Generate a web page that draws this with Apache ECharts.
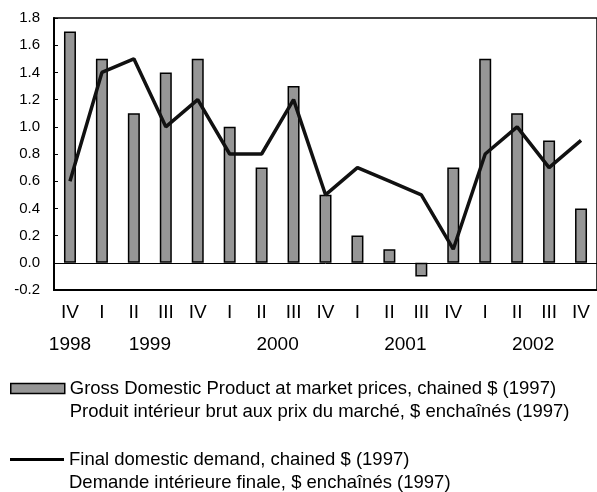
<!DOCTYPE html>
<html>
<head>
<meta charset="utf-8">
<script src="https://cdn.jsdelivr.net/npm/echarts@6/dist/echarts.min.js"></script>
<style>
  html, body { margin: 0; padding: 0; background: #fff; }
  #chart { width: 597px; height: 492px; }
</style>
</head>
<body>
<div id="chart"></div>
<script>
// quarters, 1998 Q4 .. 2002 Q4
const quarters = ['IV', 'I', 'II', 'III', 'IV', 'I', 'II', 'III', 'IV', 'I', 'II', 'III', 'IV', 'I', 'II', 'III', 'IV'];
const gdp = [1.7, 1.5, 1.1, 1.4, 1.5, 1.0, 0.7, 1.3, 0.5, 0.2, 0.1, -0.1, 0.7, 1.5, 1.1, 0.9, 0.4];
const demand = [0.6, 1.4, 1.5, 1.0, 1.2, 0.8, 0.8, 1.2, 0.5, 0.7, 0.6, 0.5, 0.1, 0.8, 1.0, 0.7, 0.9];
// year labels sit under the middle of their quarters
const years = ['1998', '1999', '2000', '2001', '2002'];
const yearAt = [0, 2.5, 6.5, 10.5, 14.5];

const gdpName = 'Gross Domestic Product at market prices, chained $ (1997)\nProduit intérieur brut aux prix du marché, $ enchaînés (1997)';
const demandName = 'Final domestic demand, chained $ (1997)\nDemande intérieure finale, $ enchaînés (1997)';

const font = 'Liberation Sans, Arial, sans-serif';
const legendText = { color: '#000', fontFamily: font, fontSize: 18.5, lineHeight: 23 };
// blank first line so the icon sits level with the first text line
const legendFmt = name => '\n' + name;

const chart = echarts.init(document.getElementById('chart'), null, { renderer: 'canvas' });
chart.setOption({
  animation: false,
  backgroundColor: '#fff',
  grid: {
    left: 54, right: -2, top: 18, bottom: 202,
    show: true, borderColor: '#000', borderWidth: 1.5
  },
  legend: [
    {
      left: 10, top: 354, padding: 0, itemWidth: 54, itemHeight: 10,
      selectedMode: false, textStyle: legendText, formatter: legendFmt,
      data: [{ name: gdpName, icon: 'rect', itemStyle: { color: '#969696', borderColor: '#000', borderWidth: 1.5 } }]
    },
    {
      left: 10, top: 425, padding: 0, itemWidth: 54, itemHeight: 3,
      selectedMode: false, textStyle: legendText, formatter: legendFmt,
      data: [{ name: demandName, icon: 'rect', itemStyle: { color: '#000', borderWidth: 0 } }]
    }
  ],
  xAxis: [
    {
      type: 'category',
      data: quarters,
      position: 'bottom',
      axisLine: { onZero: false, lineStyle: { color: '#000', width: 2 } },
      axisTick: { inside: true, length: 4, lineStyle: { color: '#000', width: 1 } },
      axisLabel: { color: '#000', fontFamily: font, fontSize: 19, margin: 13, interval: 0 },
      splitLine: { show: false }
    },
    {
      type: 'value',
      min: -0.5, max: 16.5, interval: 0.5,
      position: 'bottom',
      offset: 32,
      axisLine: { show: false, onZero: false },
      axisTick: { show: false },
      splitLine: { show: false },
      axisLabel: {
        color: '#000', fontFamily: font, fontSize: 19, margin: 13,
        showMinLabel: false, showMaxLabel: false,
        formatter: v => {
          const i = yearAt.indexOf(v);
          return i >= 0 ? years[i] : '';
        }
      }
    }
  ],
  yAxis: {
    type: 'value',
    min: -0.2, max: 1.8, interval: 0.2,
    axisLine: { show: true, onZero: false, lineStyle: { color: '#000', width: 2 } },
    axisTick: { show: true, inside: true, length: 4, lineStyle: { color: '#000' } },
    axisLabel: { color: '#000', fontFamily: font, fontSize: 15, margin: 14, formatter: v => v.toFixed(1) },
    splitLine: { show: false }
  },
  series: [
    {
      name: gdpName,
      type: 'bar',
      xAxisIndex: 0,
      data: gdp,
      barWidth: 12,
      itemStyle: { color: '#969696', borderColor: '#000', borderWidth: 1.5 },
      markLine: {
        silent: true, symbol: 'none', label: { show: false },
        lineStyle: { color: '#000', width: 1, type: 'solid' },
        data: [{ yAxis: 0 }]
      }
    },
    {
      name: demandName,
      type: 'line',
      xAxisIndex: 0,
      data: demand,
      showSymbol: false,
      symbol: 'none',
      lineStyle: { color: '#111', width: 3.5 },
      itemStyle: { color: '#111' },
      z: 3
    }
  ]
});
window.addEventListener('resize', () => chart.resize());
</script>
</body>
</html>
